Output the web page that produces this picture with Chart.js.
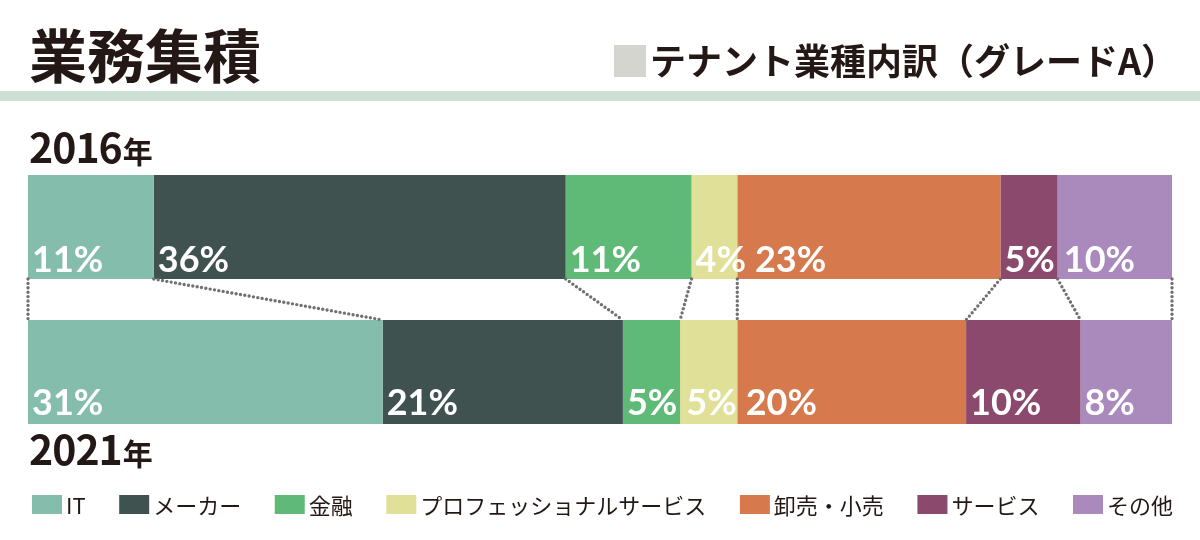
<!DOCTYPE html>
<html lang="ja">
<head>
<meta charset="utf-8">
<title>業務集積</title>
<script src="https://cdn.jsdelivr.net/npm/chart.js@4.4.1/dist/chart.umd.min.js"></script>
<style>
  html, body { margin: 0; padding: 0; background: #fff; }
  #grafico { display: block; }
</style>
</head>
<body>
<canvas id="grafico" width="1200" height="540"></canvas>
<script>
// datos del gráfico
const anios = ['2016年', '2021年'];
const sectores = ['IT', 'メーカー', '金融', 'プロフェッショナルサービス', '卸売・小売', 'サービス', 'その他'];
const valores2016 = [11, 36, 11, 4, 23, 5, 10];
const valores2021 = [31, 21, 5, 5, 20, 10, 8];

const colores = ['#85bdad', '#405250', '#60ba77', '#e1e099', '#d6794d', '#8b4a6d', '#aa8abc'];
const TINTA = '#231815';

// titulo, subtitulo, linea verde y etiquetas de año
const decoracion = {
    id: 'decoracion',
    beforeDraw(chart) {
        const ctx = chart.ctx;
        ctx.save();
        ctx.fillStyle = TINTA;
        ctx.textAlign = 'left';
        ctx.textBaseline = 'alphabetic';
        ctx.font = 'bold 58px "Noto Sans CJK JP"';
        ctx.fillText('業務集積', 29, 78);

        ctx.fillStyle = '#d5d5d0';
        ctx.fillRect(614, 45, 32, 32);
        ctx.fillStyle = TINTA;
        ctx.font = 'bold 36px "Noto Sans CJK JP"';
        ctx.fillText('テナント業種内訳（グレードA）', 650, 75);

        ctx.fillStyle = '#cde0d6';
        ctx.fillRect(0, 91, 1200, 10);

        // etiquetas de año encima/debajo de cada barra
        const yScale = chart.scales.y;
        const area = chart.chartArea;
        const posAnio = [yScale.getPixelForValue(0) - 64, yScale.getPixelForValue(1) + 93];
        anios.forEach((a, i) => {
            const num = a.replace('年', '');
            ctx.fillStyle = TINTA;
            ctx.font = 'bold 41px "Noto Sans CJK JP"';
            ctx.letterSpacing = '-1px';
            ctx.fillText(num, area.left + 1, posAnio[i]);
            const w = ctx.measureText(num).width;
            ctx.letterSpacing = '0px';
            ctx.font = 'bold 30px "Noto Sans CJK JP"';
            ctx.fillText('年', area.left + 2 + w, posAnio[i]);
        });
        ctx.restore();
    }
};

// lineas punteadas entre los limites de cada segmento
const conectores = {
    id: 'conectores',
    afterDatasetsDraw(chart) {
        const ctx = chart.ctx;
        const metas = chart.data.datasets.map((d, i) => chart.getDatasetMeta(i));
        const arriba = [metas[0].data[0].base];
        const abajo = [metas[0].data[1].base];
        metas.forEach(m => {
            arriba.push(m.data[0].x);
            abajo.push(m.data[1].x);
        });
        const y1 = metas[0].data[0].y + metas[0].data[0].height / 2;
        const y2 = metas[0].data[1].y - metas[0].data[1].height / 2;

        ctx.save();
        ctx.strokeStyle = '#707070';
        ctx.lineWidth = 3.4;
        ctx.lineCap = 'round';
        ctx.setLineDash([0, 4.4]);
        arriba.forEach((x, k) => {
            ctx.beginPath();
            ctx.moveTo(x, y1);
            ctx.lineTo(abajo[k], y2);
            ctx.stroke();
        });
        ctx.restore();

        // porcentajes dentro de cada segmento (sin pisar la etiqueta anterior)
        ctx.save();
        ctx.fillStyle = '#ffffff';
        ctx.font = 'bold 36px Lato';
        ctx.textAlign = 'left';
        ctx.textBaseline = 'alphabetic';
        const finPrevio = [0, 0];
        chart.data.datasets.forEach((ds, i) => {
            metas[i].data.forEach((el, j) => {
                const txt = ds.data[j] + '%';
                const fondo = el.y + el.height / 2;
                const x = Math.max(el.base + 4, finPrevio[j] + 9);
                ctx.fillText(txt, x, fondo - 7 - j * 2);
                finPrevio[j] = x + ctx.measureText(txt).width;
            });
        });
        ctx.restore();
    }
};

// leyenda dibujada a mano: cuadro de color + nombre del sector
const leyenda = {
    id: 'leyenda',
    afterDraw(chart) {
        const ctx = chart.ctx;
        const inicio = 32, fin = 1173, caja = 30, alto = 19, sep = 4, yCaja = 495;
        ctx.save();
        ctx.font = '22px "Noto Sans CJK JP"';
        ctx.textBaseline = 'middle';
        const anchos = sectores.map(s => ctx.measureText(s).width);
        const total = anchos.reduce((a, b) => a + b, 0) + sectores.length * (caja + sep);
        const hueco = (fin - inicio - total) / (sectores.length - 1);
        let x = inicio;
        chart.data.datasets.forEach((ds, i) => {
            ctx.fillStyle = ds.backgroundColor;
            ctx.fillRect(x, yCaja, caja, alto);
            ctx.fillStyle = TINTA;
            ctx.fillText(ds.label, x + caja + sep, yCaja + alto / 2 + 1);
            x += caja + sep + anchos[i] + hueco;
        });
        ctx.restore();
    }
};

const ctx = document.getElementById('grafico').getContext('2d');

new Chart(ctx, {
    type: 'bar',
    data: {
        labels: anios,
        datasets: sectores.map((s, i) => ({
            label: s,
            data: [valores2016[i], valores2021[i]],
            backgroundColor: colores[i],
            borderWidth: 0,
            barPercentage: 1,
            categoryPercentage: 104 / 145
        }))
    },
    options: {
        indexAxis: 'y',
        responsive: false,
        devicePixelRatio: 1,
        animation: false,
        layout: { padding: { left: 28, right: 28, top: 154.5, bottom: 95.5 } },
        scales: {
            x: { stacked: true, min: 0, max: 100, display: false },
            y: { stacked: true, display: false }
        },
        plugins: {
            legend: { display: false },
            tooltip: { enabled: false }
        }
    },
    plugins: [decoracion, conectores, leyenda]
});
</script>
</body>
</html>
